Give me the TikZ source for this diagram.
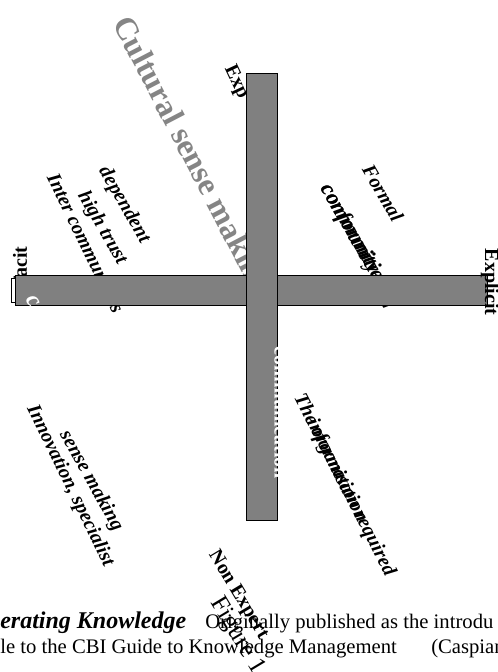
\documentclass[tikz,border=0pt]{standalone}
\usepackage{fontspec}
\setmainfont{Liberation Serif}
\definecolor{bargray}{HTML}{808080}
\definecolor{culgray}{HTML}{858585}
\begin{document}
\begin{tikzpicture}[x=0.75pt,y=-0.75pt,
  lbl/.style={font=\fontsize{15}{18}\selectfont\bfseries\itshape, inner sep=0pt},
  lblup/.style={font=\fontsize{15}{18}\selectfont\bfseries, inner sep=0pt},
  bar/.style={fill=bargray, draw=black, line width=0.75pt},
  capt/.style={font=\fontsize{15.5}{18}\selectfont, inner sep=0pt, anchor=base west},
  capb/.style={font=\fontsize{18}{20}\selectfont\bfseries\itshape, inner sep=0pt, anchor=base west}]
\useasboundingbox (0,0) rectangle (497,672);
\clip (0,0) rectangle (497,672);
% labels behind the bars
\node[font=\fontsize{24}{28}\selectfont\bfseries, text=culgray, inner sep=0pt, rotate=-62.5] (cult) at (190,156) {Cultural sense making};
\node[lblup, rotate=-65] (exp) at (236,82) {Exp};
\node[lblup, rotate=90] (tacit) at (20,268) {Tacit};
\node[lbl, rotate=-60] (dep) at (124,205) {dependent};
\node[lbl, rotate=-60] (high) at (102,228) {high trust};
\node[lbl, rotate=-64] (inter) at (86,243) {Inter communities};
\node[lbl, rotate=-60] (formal) at (383,193) {Formal};
\node[lbl, font=\fontsize{16.5}{18}\selectfont\bfseries\itshape, rotate=-60, anchor=west] (comm) at (325,186) {communities of};
\node[lbl, font=\fontsize{16.5}{18}\selectfont\bfseries\itshape, rotate=-60, anchor=west] (conf) at (325,186) {conformity};
\node[lbl, rotate=-61] (sense) at (91,481) {sense making};
\node[lbl, rotate=-64] (innov) at (70,486) {Innovation, specialist};
\node[lbl, rotate=-63, anchor=west] (org) at (298,395) {The organisation};
\node[lbl, rotate=-63, anchor=west] (info) at (311,420) {information required};
\node[lblup, rotate=-59] (nonexp) at (238,595) {Non Expert};
% bars
\draw[bar] (15,275) rectangle (487,305);
\draw[bar] (246,73) rectangle (277,520);
\draw[black, fill=white, line width=0.6pt] (11,278) rectangle (15,302);
% white texts over the bars
\node[font=\fontsize{15}{18}\selectfont\bfseries, text=white, inner sep=0pt, anchor=base, rotate=-90] (wcomm) at (274.5,413) {communication};
\node[font=\fontsize{18}{20}\selectfont\bfseries\itshape, text=white, inner sep=0pt, rotate=-60] (wc) at (33,301) {c};
\node[lblup, rotate=-90] (explicit) at (490,282) {Explicit};
% caption
\node[font=\fontsize{19}{22}\selectfont, inner sep=0pt, rotate=-59] (fig) at (237,636) {Figure 1};
\node[capb] (cap1) at (0,628) {erating Knowledge};
\node[capt] (cap2) at (205,628) {Originally published as the introdu};
\node[capt] (cap3) at (0,653) {le to the CBI Guide to Knowledge Management};
\node[capt] (cap4) at (431,653) {(Caspian};
\end{tikzpicture}
\end{document}
